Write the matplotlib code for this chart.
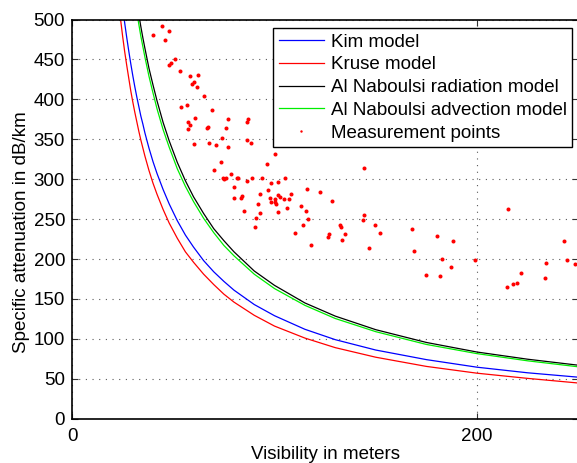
import matplotlib

matplotlib.use("Agg")
import matplotlib.pyplot as plt

vis_m = [22, 23, 24, 25, 26, 27, 28, 29, 30, 31, 32, 33, 34, 35, 36, 38, 40,
         42, 45, 48, 52, 56, 60, 65, 70, 75, 80, 90, 100, 115, 130, 150, 175,
         200, 225, 250]
kim = [586, 561, 537, 516, 496, 478, 461, 445, 430, 416, 403, 391, 379, 369,
       358, 339, 322, 307, 287, 269, 248, 230, 215, 198, 184, 172, 161, 143,
       129, 112, 99, 86, 74, 64.5, 57.5, 52]
kruse = [547, 522, 500, 479, 460, 443, 427, 411, 397, 384, 372, 360, 349, 339,
         329, 311, 295, 281, 262, 245, 226, 209, 196, 181, 168, 156, 146,
         129.5, 116, 101, 89, 77, 65.5, 57, 50.5, 44.7]
naboulsi_rad = [759, 726, 696, 668, 642, 619, 596, 576, 557, 539, 522, 506,
                491, 477, 464, 439, 418, 398, 371, 348, 321, 298, 278, 257,
                238, 223, 209, 185, 167, 145, 128.5, 111.5, 95.5, 83.5, 74.5,
                67]
naboulsi_adv = [741, 709, 679, 652, 627, 604, 582, 562, 543, 526, 509, 494,
                479, 466, 453, 429, 408, 388, 362, 340, 313, 291, 272, 251,
                233, 217, 204, 181, 163, 142, 125.5, 109, 93, 81.5, 72.5, 65]

meas_x = [44.6, 39.8, 47.9, 45.8, 50.9, 48.7, 47.7, 53.3, 58.4, 62.1, 60.2,
          59.4, 61.7, 65.2, 53.7, 56.6, 69.1, 60.6, 57.4, 58.4, 57.1, 67.3,
          66.7, 77.0, 76.0, 86.9, 86.3, 74.2, 60.2, 67.5, 71.1, 77.0, 86.3,
          88.5, 73.4, 70.3, 74.6, 75.2, 76.0, 78.5, 81.5, 82.0, 86.3, 89.0,
          80.0, 92.8, 80.0, 83.5, 83.9, 84.8, 91.7, 91.0, 90.5, 92.8, 96.3,
          96.9, 100.2, 93.7, 98.3, 101.7, 105.3, 97.8, 98.3, 100.2, 100.4,
          100.6, 101.9, 102.9, 101.9, 104.8, 106.0, 107.2, 108.3, 112.9,
          114.2, 110.3, 115.6, 116.5, 115.9, 117.9, 122.6, 128.2, 126.4,
          126.9, 132.3, 132.8, 133.3, 135.0, 144.2, 143.5, 149.5, 152.3,
          146.5, 144.3, 167.7, 168.7, 174.8, 180.4, 182.7, 181.9, 188.3,
          187.0, 199.2, 215.2, 214.8, 217.8, 219.6, 221.5, 233.7, 234.2,
          242.8, 244.6, 248.4]
meas_y = [492, 480, 485, 474, 450, 446, 443, 435, 429, 430, 422, 419, 415,
          404, 391, 393, 387, 377, 371, 368, 363, 365, 364, 375, 364, 376,
          372, 352, 344, 345, 343, 340, 349, 345, 321, 311, 302, 300, 301,
          307, 302, 301, 298, 301, 290, 281, 276, 277, 279, 260, 269, 252,
          240, 258, 319, 287, 331, 302, 295, 297, 302, 276, 271, 275, 271,
          269, 280, 278, 259, 275, 264, 275, 282, 266, 242, 233, 260, 250,
          288, 217, 284, 273, 228, 231, 243, 240, 224, 231, 255, 249, 242,
          232, 214, 314, 237, 210, 180, 229, 200, 179, 222, 190, 199, 263,
          165, 169, 170, 182, 176, 195, 222, 199, 194]

plt.rcParams["font.family"] = ["Liberation Sans", "DejaVu Sans"]
FS = 13.5

W, H = 577, 463
fig = plt.figure(figsize=(W / 100, H / 100), dpi=100)
ax = fig.add_axes([72 / W, (H - 418.7) / H, 506.25 / W, 399.2 / H])

ax.plot(vis_m, kim, color="blue", lw=0.9, label="Kim model")
ax.plot(vis_m, kruse, color="red", lw=0.9, label="Kruse model")
ax.plot(vis_m, naboulsi_rad, color="black", lw=0.9,
        label="Al Naboulsi radiation model")
ax.plot(vis_m, naboulsi_adv, color="#00ee00", lw=0.9,
        label="Al Naboulsi advection model")
ax.plot(meas_x, meas_y, ls="none", marker="o", ms=2.9, mec="none",
        color="red", label="Measurement points")

ax.set_xlim(0, 250)
ax.set_ylim(0, 500)
ax.set_xticks([0, 200])
ax.set_yticks(range(0, 501, 50))
ax.grid(True, color="0.35", lw=0.8, ls=(0, (1, 5)))
ax.tick_params(direction="in", length=4, width=0.8, labelsize=FS,
               top=True, right=True, color="0.2")
ax.tick_params(axis="x", pad=7)
ax.tick_params(axis="y", pad=5)
for sp in ax.spines.values():
    sp.set_linewidth(1.2)

ax.set_xlabel("Visibility in meters", fontsize=FS)
ax.set_ylabel("Specific attenuation in dB/km", fontsize=FS)
ax.xaxis.set_label_coords(0.5, -0.068)
ax.yaxis.set_label_coords(-0.082, 0.468)

leg = ax.legend(loc="upper right", bbox_to_anchor=(0.988, 0.979),
                borderaxespad=0, fontsize=FS, fancybox=False, framealpha=1,
                edgecolor="black", handlelength=2.4, labelspacing=0.3,
                borderpad=0.3, handletextpad=0.35, markerscale=0.6)
leg.get_frame().set_linewidth(1.0)

fig.savefig("out.png", dpi=100)
